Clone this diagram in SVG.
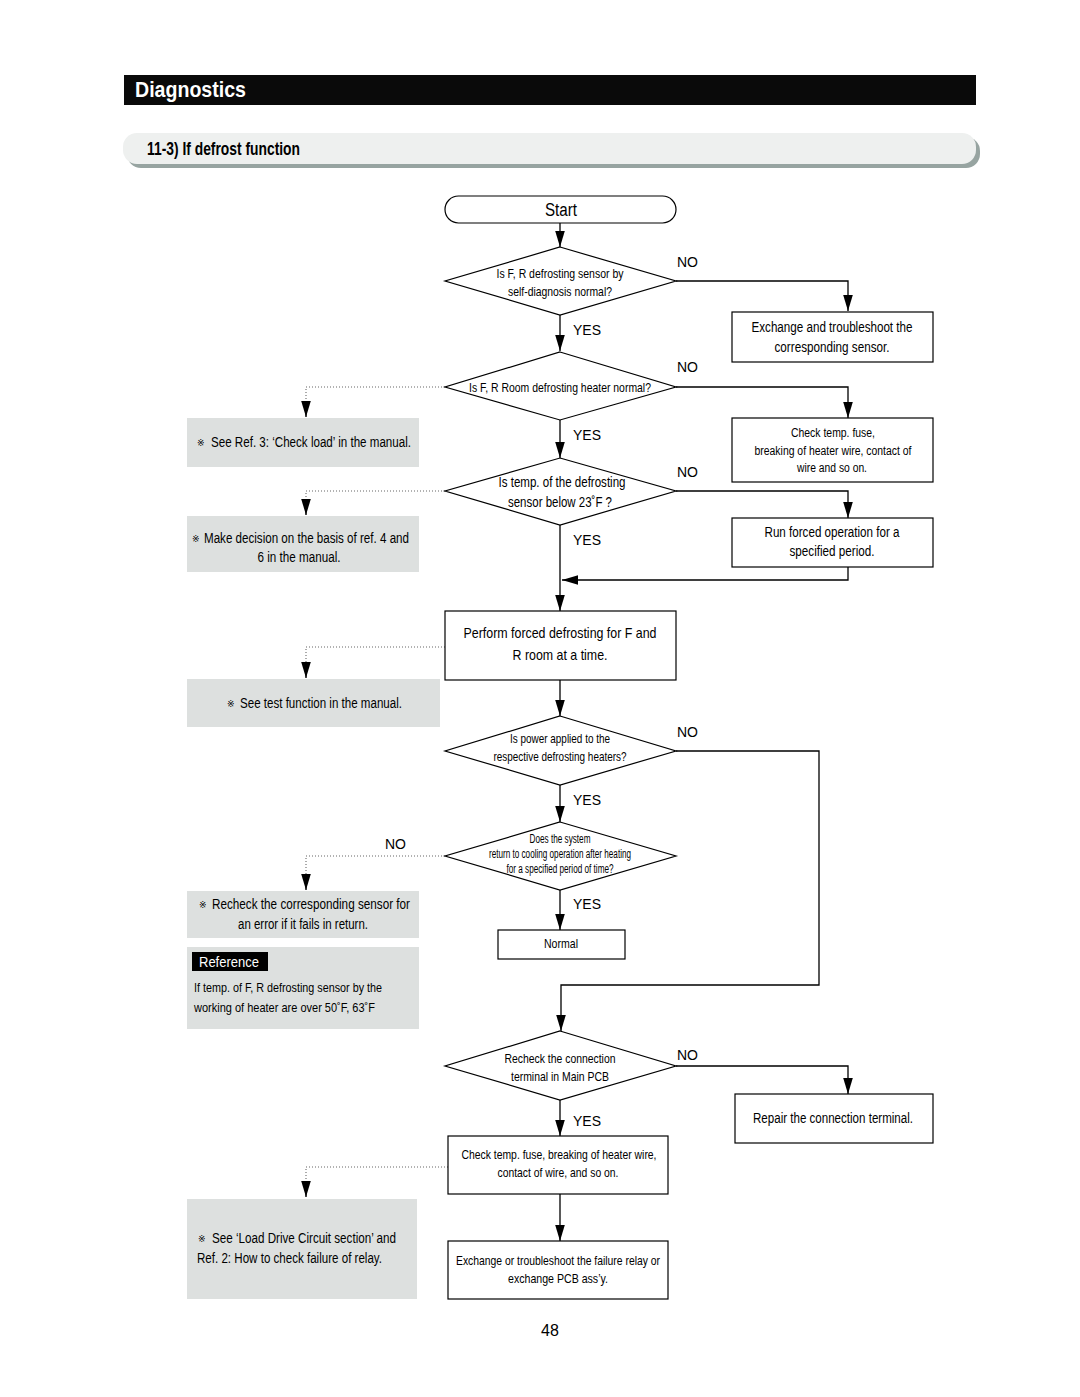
<svg xmlns="http://www.w3.org/2000/svg" width="1080" height="1397" viewBox="0 0 1080 1397">
<style>
.t{font-family:"Liberation Sans",Arial,sans-serif;fill:#000}
.c{text-anchor:middle}
.lab{font-family:"Liberation Sans",Arial,sans-serif;font-size:14px;fill:#000}
.ln{stroke:#000;stroke-width:1.3;fill:none}
.dot{stroke:#666;stroke-width:1.1;stroke-dasharray:1 2;fill:none}
.box{fill:#fff;stroke:#000;stroke-width:1.2}
.gray{fill:#dde0df}
.ast{font-family:"DejaVu Sans","Noto Sans CJK KR",sans-serif;font-size:9px;fill:#000}
</style>
<defs>
<marker id="ah" markerUnits="userSpaceOnUse" markerWidth="16" markerHeight="12" viewBox="0 -5 15 10" refX="15" refY="0" orient="auto">
<path d="M0,-4.5 L15,0 L0,4.5 z" fill="#000"/>
</marker>
</defs>
<rect width="1080" height="1397" fill="#fff"/>

<g id="header">
<rect x="124" y="75" width="852" height="30" fill="#0a0a0a"/>
<text class="t" x="135" y="97" font-size="22" font-weight="bold" fill="#fff" style="fill:#fff" textLength="111" lengthAdjust="spacingAndGlyphs">Diagnostics</text>
</g>
<g id="section">
<rect x="127" y="137" width="853" height="31" rx="14" fill="#97a4a1"/>
<rect x="123" y="133" width="853" height="31" rx="14" fill="#eef0ef"/>
<text class="t" x="147" y="155" font-size="18" font-weight="bold" textLength="153" lengthAdjust="spacingAndGlyphs">11-3) If defrost function</text>
</g>

<g id="connectors">
<path class="ln" d="M560,223 V247" marker-end="url(#ah)"/>
<path class="ln" d="M676,281 H848 V311" marker-end="url(#ah)"/>
<path class="ln" d="M560,315 V351" marker-end="url(#ah)"/>
<path class="ln" d="M676,387 H848 V418" marker-end="url(#ah)"/>
<path class="dot" d="M445,387 H306 V403"/>
<path class="ln" d="M306,403 V417" marker-end="url(#ah)"/>
<path class="ln" d="M560,420 V458" marker-end="url(#ah)"/>
<path class="ln" d="M676,491 H848 V518" marker-end="url(#ah)"/>
<path class="dot" d="M445,491 H306 V501"/>
<path class="ln" d="M306,501 V515" marker-end="url(#ah)"/>
<path class="ln" d="M560,525 V611" marker-end="url(#ah)"/>
<path class="ln" d="M848,567 V580 H562" marker-end="url(#ah)"/>
<path class="dot" d="M445,647 H306 V664"/>
<path class="ln" d="M306,664 V678" marker-end="url(#ah)"/>
<path class="ln" d="M560,680 V716" marker-end="url(#ah)"/>
<path class="ln" d="M676,751 H819 V985 H561 V1031" marker-end="url(#ah)"/>
<path class="ln" d="M560,785 V822" marker-end="url(#ah)"/>
<path class="dot" d="M445,856 H306 V876"/>
<path class="ln" d="M306,876 V890" marker-end="url(#ah)"/>
<path class="ln" d="M560,890 V930" marker-end="url(#ah)"/>
<path class="ln" d="M676,1066 H848 V1094" marker-end="url(#ah)"/>
<path class="ln" d="M560,1100 V1136" marker-end="url(#ah)"/>
<path class="dot" d="M448,1167 H306 V1183"/>
<path class="ln" d="M306,1183 V1197" marker-end="url(#ah)"/>
<path class="ln" d="M560,1194 V1241" marker-end="url(#ah)"/>
<text class="lab" x="677" y="267">NO</text>
<text class="lab" x="573" y="335">YES</text>
<text class="lab" x="677" y="372">NO</text>
<text class="lab" x="573" y="440">YES</text>
<text class="lab" x="677" y="477">NO</text>
<text class="lab" x="573" y="545">YES</text>
<text class="lab" x="677" y="737">NO</text>
<text class="lab" x="573" y="805">YES</text>
<text class="lab" x="385" y="849">NO</text>
<text class="lab" x="573" y="909">YES</text>
<text class="lab" x="677" y="1060">NO</text>
<text class="lab" x="573" y="1126">YES</text>
</g>

<g id="start">
<rect class="box" x="445" y="196" width="231" height="27" rx="13.5"/>
<text class="t c" x="561" y="216" font-size="18" textLength="32" lengthAdjust="spacingAndGlyphs">Start</text>
</g>

<g id="d1">
<polygon class="box" points="560,247 676,281 560,315 445,281"/>
<text class="t c" x="560" y="278" font-size="13" textLength="127" lengthAdjust="spacingAndGlyphs">Is F, R defrosting sensor by</text>
<text class="t c" x="560" y="296" font-size="13" textLength="104" lengthAdjust="spacingAndGlyphs">self-diagnosis normal?</text>
</g>

<g id="b1">
<rect class="box" x="732" y="312" width="201" height="50"/>
<text class="t c" x="832" y="332" font-size="14" textLength="161" lengthAdjust="spacingAndGlyphs">Exchange and troubleshoot the</text>
<text class="t c" x="832" y="352" font-size="14" textLength="115" lengthAdjust="spacingAndGlyphs">corresponding sensor.</text>
</g>

<g id="d2">
<polygon class="box" points="560,352 676,387 560,420 445,387"/>
<text class="t c" x="560" y="392" font-size="13" textLength="182" lengthAdjust="spacingAndGlyphs">Is F, R Room defrosting heater normal?</text>
</g>

<g id="g1">
<rect class="gray" x="187" y="418" width="232" height="49"/>
<text class="ast" x="197" y="446">※</text>
<text class="t" x="211" y="447" font-size="14" textLength="200" lengthAdjust="spacingAndGlyphs">See Ref. 3: ‘Check load’ in the manual.</text>
</g>

<g id="b2">
<rect class="box" x="732" y="418" width="201" height="64"/>
<text class="t c" x="833" y="437" font-size="12" textLength="84" lengthAdjust="spacingAndGlyphs">Check temp. fuse,</text>
<text class="t c" x="833" y="455" font-size="12" textLength="157" lengthAdjust="spacingAndGlyphs">breaking of heater wire, contact of</text>
<text class="t c" x="832" y="472" font-size="12" textLength="70" lengthAdjust="spacingAndGlyphs">wire and so on.</text>
</g>

<g id="d3">
<polygon class="box" points="560,458 676,491 560,525 445,491"/>
<text class="t c" x="562" y="487" font-size="14" textLength="127" lengthAdjust="spacingAndGlyphs">Is temp. of the defrosting</text>
<text class="t c" x="560" y="507" font-size="14" textLength="104" lengthAdjust="spacingAndGlyphs">sensor below 23˚F ?</text>
</g>

<g id="g2">
<rect class="gray" x="187" y="516" width="232" height="56"/>
<text class="ast" x="192" y="542">※</text>
<text class="t" x="204" y="543" font-size="14" textLength="205" lengthAdjust="spacingAndGlyphs">Make decision on the basis of ref. 4 and</text>
<text class="t c" x="299" y="562" font-size="14" textLength="83" lengthAdjust="spacingAndGlyphs">6 in the manual.</text>
</g>

<g id="b3">
<rect class="box" x="732" y="518" width="201" height="49"/>
<text class="t c" x="832" y="537" font-size="14" textLength="135" lengthAdjust="spacingAndGlyphs">Run forced operation for a</text>
<text class="t c" x="832" y="556" font-size="14" textLength="85" lengthAdjust="spacingAndGlyphs">specified period.</text>
</g>

<g id="perform">
<rect class="box" x="445" y="611" width="231" height="69"/>
<text class="t c" x="560" y="638" font-size="15" textLength="193" lengthAdjust="spacingAndGlyphs">Perform forced defrosting for F and</text>
<text class="t c" x="560" y="660" font-size="15" textLength="95" lengthAdjust="spacingAndGlyphs">R room at a time.</text>
</g>

<g id="g3">
<rect class="gray" x="187" y="679" width="253" height="48"/>
<text class="ast" x="227" y="707">※</text>
<text class="t" x="240" y="708" font-size="14" textLength="162" lengthAdjust="spacingAndGlyphs">See test function in the manual.</text>
</g>

<g id="d4">
<polygon class="box" points="560,716 676,751 560,785 445,751"/>
<text class="t c" x="560" y="743" font-size="13" textLength="100" lengthAdjust="spacingAndGlyphs">Is power applied to the</text>
<text class="t c" x="560" y="761" font-size="13" textLength="133" lengthAdjust="spacingAndGlyphs">respective defrosting heaters?</text>
</g>

<g id="d5">
<polygon class="box" points="560,822 676,856 560,890 445,856"/>
<text class="t c" x="560" y="843" font-size="12" textLength="61" lengthAdjust="spacingAndGlyphs">Does the system</text>
<text class="t c" x="560" y="858" font-size="12" textLength="142" lengthAdjust="spacingAndGlyphs">return to cooling operation after heating</text>
<text class="t c" x="560" y="873" font-size="12" textLength="107" lengthAdjust="spacingAndGlyphs">for a specified period of time?</text>
</g>

<g id="g4">
<rect class="gray" x="187" y="891" width="232" height="47"/>
<text class="ast" x="199" y="908">※</text>
<text class="t" x="212" y="909" font-size="14" textLength="198" lengthAdjust="spacingAndGlyphs">Recheck the corresponding sensor for</text>
<text class="t c" x="303" y="929" font-size="14" textLength="130" lengthAdjust="spacingAndGlyphs">an error if it fails in return.</text>
</g>

<g id="reference">
<rect class="gray" x="187" y="947" width="232" height="82"/>
<rect x="192" y="952" width="76" height="19" fill="#000"/>
<text class="t" x="199" y="967" font-size="14" style="fill:#fff" textLength="60" lengthAdjust="spacingAndGlyphs">Reference</text>
<text class="t" x="194" y="992" font-size="13" textLength="188" lengthAdjust="spacingAndGlyphs">If temp. of F, R defrosting sensor by the</text>
<text class="t" x="194" y="1012" font-size="13" textLength="181" lengthAdjust="spacingAndGlyphs">working of heater are over 50˚F,  63˚F</text>
</g>

<g id="normal">
<rect class="box" x="498" y="930" width="127" height="29"/>
<text class="t c" x="561" y="948" font-size="13" textLength="34" lengthAdjust="spacingAndGlyphs">Normal</text>
</g>

<g id="d6">
<polygon class="box" points="560,1031 676,1066 560,1100 445,1066"/>
<text class="t c" x="560" y="1063" font-size="13" textLength="111" lengthAdjust="spacingAndGlyphs">Recheck the connection</text>
<text class="t c" x="560" y="1081" font-size="13" textLength="98" lengthAdjust="spacingAndGlyphs">terminal in Main PCB</text>
</g>

<g id="repair">
<rect class="box" x="735" y="1094" width="198" height="49"/>
<text class="t c" x="833" y="1123" font-size="14" textLength="160" lengthAdjust="spacingAndGlyphs">Repair the connection terminal.</text>
</g>

<g id="check">
<rect class="box" x="448" y="1136" width="220" height="58"/>
<text class="t c" x="559" y="1159" font-size="13" textLength="195" lengthAdjust="spacingAndGlyphs">Check temp. fuse, breaking of heater wire,</text>
<text class="t c" x="558" y="1177" font-size="13" textLength="121" lengthAdjust="spacingAndGlyphs">contact of wire, and so on.</text>
</g>

<g id="g5">
<rect class="gray" x="187" y="1199" width="230" height="100"/>
<text class="ast" x="198" y="1242">※</text>
<text class="t" x="212" y="1243" font-size="14" textLength="184" lengthAdjust="spacingAndGlyphs">See ‘Load Drive Circuit section’ and</text>
<text class="t" x="197" y="1263" font-size="14" textLength="185" lengthAdjust="spacingAndGlyphs">Ref. 2: How to check failure of relay.</text>
</g>

<g id="exchange">
<rect class="box" x="448" y="1241" width="220" height="58"/>
<text class="t c" x="558" y="1265" font-size="13" textLength="204" lengthAdjust="spacingAndGlyphs">Exchange or troubleshoot the failure relay or</text>
<text class="t c" x="558" y="1283" font-size="13" textLength="100" lengthAdjust="spacingAndGlyphs">exchange PCB ass’y.</text>
</g>

<g id="page">
<text class="t c" x="550" y="1336" font-size="16">48</text>
</g>
</svg>
